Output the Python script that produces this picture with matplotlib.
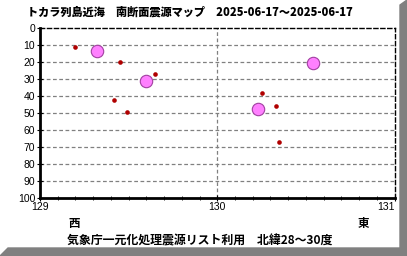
import numpy as np
import matplotlib.pyplot as plt
from matplotlib.patches import Polygon

plt.rcParams['font.family'] = ['Noto Sans CJK JP', 'DejaVu Sans']

# data
small_lon = [129.20, 129.45, 129.65, 129.42, 129.49, 130.25, 130.33, 130.35]
small_dep = [11.5, 20.4, 27.4, 42.8, 49.8, 38.6, 46.3, 67.5]
big_lon = [129.32, 129.60, 130.54, 130.23]
big_dep = [13.5, 31.2, 21.0, 48.1]

title = 'トカラ列島近海　南断面震源マップ　2025-06-17～2025-06-17'
footer = '気象庁一元化処理震源リスト利用　北緯28～30度'
yticks = np.arange(0, 101, 10)
xticks = [129, 130, 131]

W, H = 407, 256
fig = plt.figure(figsize=(W/100, H/100), dpi=100)
fig.patch.set_facecolor('white')

# drop shadow on right and bottom
fig.patches.append(Polygon([(400/W, 1-5/H), (407/W, 1-0/H), (407/W, 0), (400/W, 8/H)],
                           closed=True, transform=fig.transFigure, color='#808080', zorder=-5))
fig.patches.append(Polygon([(0, 0), (8/W, 8/H), (407/W, 8/H), (407/W, 0)],
                           closed=True, transform=fig.transFigure, color='#808080', zorder=-5))

ax = fig.add_axes([40/W, 1-197.5/H, 354.6/W, 169.8/H])
ax.set_xlim(129, 131)
ax.set_ylim(100, 0)

for d in yticks[1:-1]:
    ax.axhline(d, color='#808080', ls=(0, (3, 2)), lw=0.9, zorder=1)
ax.axvline(130, color='#808080', ls=(0, (3, 2)), lw=0.9, zorder=1)

ax.scatter(small_lon, small_dep, s=11, c='#b00000', marker='o', linewidths=0, zorder=3)
ax.scatter(big_lon, big_dep, s=80, c='#ff80ff', edgecolors='#a040a0', linewidths=0.8, zorder=3)

ax.spines['left'].set_linewidth(2)
ax.spines['bottom'].set_linewidth(2)
for s in ['top', 'right']:
    ax.spines[s].set_linestyle((0, (3, 2)))
    ax.spines[s].set_linewidth(1)

ax.set_yticks(yticks)
ax.set_xticks(xticks)
ax.set_xticks(np.arange(129, 131.01, 0.1), minor=True)
ax.tick_params(axis='both', direction='inout', length=5, width=0.8, labelsize=7.5, pad=1)
ax.tick_params(axis='x', which='minor', direction='inout', length=3, width=0.6)
for lab in ax.get_xticklabels() + ax.get_yticklabels():
    lab.set_family(['Liberation Sans Narrow', 'Liberation Sans', 'DejaVu Sans'])
ax.get_xticklabels()[-1].set_horizontalalignment('right')
ax.get_xticklabels()[-1].set_x(131.02)

fig.text(27/W, 1-12/H, title, fontsize=8.0, fontweight='heavy', va='center', ha='left')
fig.text(74/W, 1-223/H, '西', fontsize=8.3, fontweight='bold', va='center', ha='center')
fig.text(363/W, 1-223/H, '東', fontsize=8.3, fontweight='bold', va='center', ha='center')
fig.text(67/W, 1-241/H, footer, fontsize=8.6, fontweight='bold', va='center', ha='left')

plt.savefig('out.png', dpi=100)
